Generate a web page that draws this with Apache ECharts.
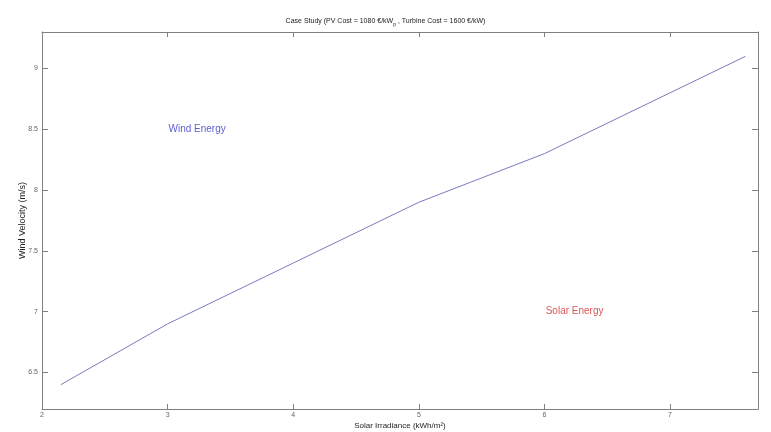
<!DOCTYPE html>
<html>
<head>
<meta charset="utf-8">
<script src="https://cdn.jsdelivr.net/npm/echarts@6/dist/echarts.min.js"></script>
<style>html,body{margin:0;padding:0;background:#fff}#c{width:771px;height:432px}</style>
</head>
<body>
<div id="c"></div>
<script>
var irradiance = [2.15, 3, 4, 5, 6, 7, 7.6];
var windVelocity = [6.4, 6.9, 7.4, 7.9, 8.3, 8.8, 9.1];
var xTicks = [2, 3, 4, 5, 6, 7];
var yTicks = [6.5, 7, 7.5, 8, 8.5, 9];
var regionLabels = ['Wind Energy', 'Solar Energy'];
var regionX = [3.235, 6.24];
var regionY = [8.5, 7.0];
var regionColors = ['#3434c8', '#d22a2a'];

var F = 'Liberation Sans, Arial, sans-serif';
var chart = echarts.init(document.getElementById('c'), null, {renderer: 'canvas'});
function axisCommon() {
  return {
    axisLine: {show: true, onZero: false, lineStyle: {color: '#808080', width: 1}},
    splitLine: {show: false}
  };
}
var xBase = {type: 'value', min: 2, max: 7.7};
var yBase = {type: 'value', min: 6.2, max: 9.3};
chart.setOption({
  animation: false,
  title: {
    text: '{t|Case Study (PV Cost = 1080 €/kW}{s|p}{t| , Turbine Cost = 1600 €/kW)}',
    left: 'center', top: 10,
    textStyle: {
      fontWeight: 'normal',
      rich: {
        t: {fontFamily: F, fontSize: 7, fontWeight: 'normal', color: '#222'},
        s: {fontFamily: F, fontSize: 5, fontWeight: 'normal', color: '#222', padding: [7, 0, 0, 0]}
      }
    }
  },
  grid: {left: 42, right: 13, top: 32, bottom: 23, containLabel: false, outerBoundsMode: 'none'},
  xAxis: [
    Object.assign({}, xBase, axisCommon(), {
      position: 'bottom',
      name: 'Solar Irradiance (kWh/m²)', nameLocation: 'middle', nameGap: 13, nameMoveOverlap: false,
      nameTextStyle: {fontFamily: F, fontSize: 8, color: '#222'},
      axisTick: {show: true, inside: true, length: 5, lineStyle: {color: '#808080'}, customValues: xTicks},
      axisLabel: {fontFamily: F, fontSize: 7, color: '#666', margin: 3, customValues: xTicks}
    }),
    Object.assign({}, xBase, axisCommon(), {
      position: 'top',
      axisTick: {show: true, inside: true, length: 5, lineStyle: {color: '#808080'}, customValues: xTicks},
      axisLabel: {show: false}
    })
  ],
  yAxis: [
    Object.assign({}, yBase, axisCommon(), {
      position: 'left',
      name: 'Wind Velocity (m/s)', nameLocation: 'middle', nameGap: 15, nameRotate: 90, nameMoveOverlap: false,
      nameTextStyle: {fontFamily: F, fontSize: 9, color: '#222'},
      axisTick: {show: true, inside: true, length: 6, lineStyle: {color: '#808080'}, customValues: yTicks},
      axisLabel: {fontFamily: F, fontSize: 7, color: '#666', margin: 4, customValues: yTicks}
    }),
    Object.assign({}, yBase, axisCommon(), {
      position: 'right',
      axisTick: {show: true, inside: true, length: 6, lineStyle: {color: '#808080'}, customValues: yTicks},
      axisLabel: {show: false}
    })
  ],
  series: [
    {
      type: 'line', xAxisIndex: 0, yAxisIndex: 0,
      data: irradiance.map(function (x, i) { return [x, windVelocity[i]]; }),
      showSymbol: false, symbol: 'none',
      lineStyle: {color: '#7a7ac0', width: 1}
    },
    {
      type: 'scatter', xAxisIndex: 0, yAxisIndex: 0, symbolSize: 0, silent: true,
      data: regionLabels.map(function (t, i) {
        return {
          value: [regionX[i], regionY[i]],
          label: {show: true, position: 'inside', formatter: t,
            fontFamily: F, fontSize: 10, color: regionColors[i]}
        };
      })
    }
  ]
});
</script>
</body>
</html>
